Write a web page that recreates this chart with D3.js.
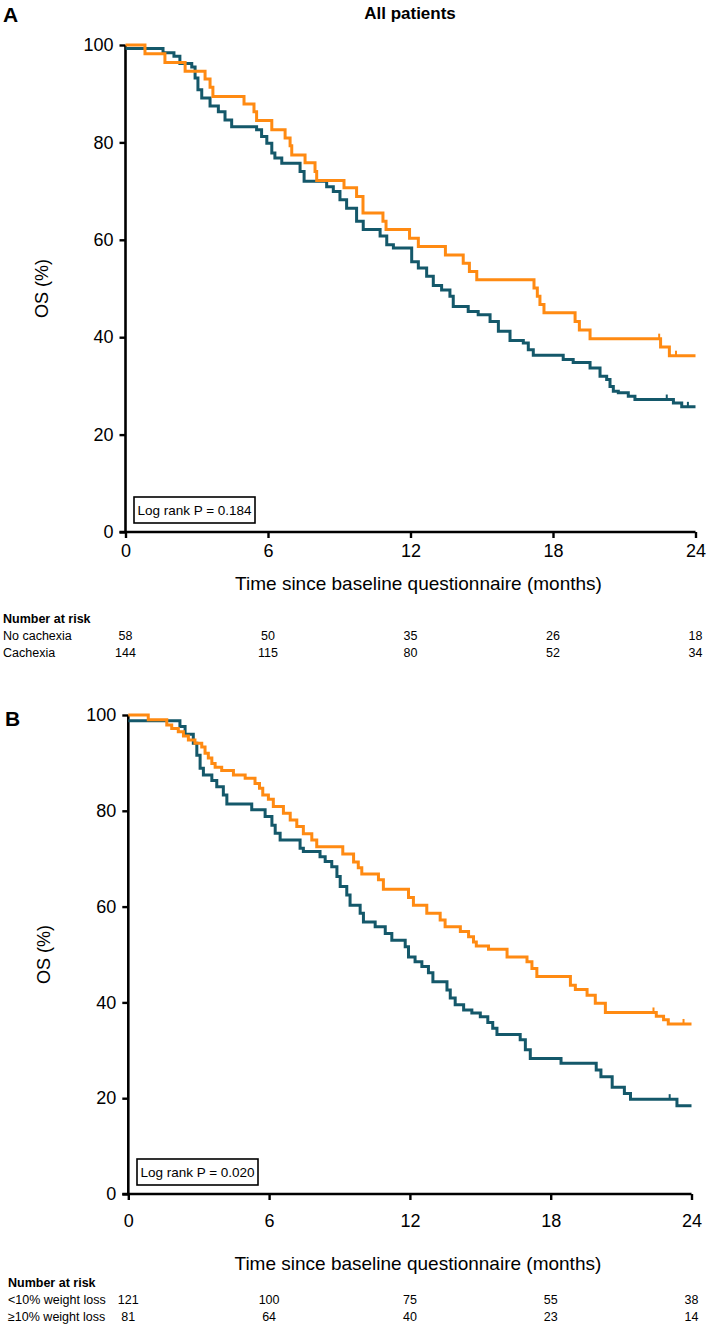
<!DOCTYPE html>
<html>
<head>
<meta charset="utf-8">
<script src="https://cdn.jsdelivr.net/npm/d3@7"></script>
<style>
  body { margin: 0; background: #fff; }
  text { font-family: "Liberation Sans", Arial, sans-serif; fill: #000; }
</style>
</head>
<body>
<div id="chart"></div>
<script>
// ---- data ----
var monthTicks = [0, 6, 12, 18, 24]
var osTicks = [0, 20, 40, 60, 80, 100]

// panel A : all patients
var aNoCachT = [0, 0.82, 1.66, 2.51, 3.35, 3.56, 3.68, 4.99, 5.41, 5.52, 6.16, 6.72, 6.93, 7.0, 7.56, 7.98, 8.05, 9.2, 9.73, 10.0, 10.84, 10.97, 11.96, 12.33, 13.47, 14.22, 14.48, 14.79, 17.2, 17.34, 17.45, 17.62, 18.93, 19.11, 19.56, 22.53, 22.9, 24]
var aNoCachS = [100, 98.2, 96.4, 94.6, 93.0, 91.3, 89.4, 87.9, 86.3, 84.5, 82.6, 80.9, 79.3, 77.4, 75.8, 74.0, 72.2, 70.7, 68.9, 65.5, 63.8, 62.1, 60.3, 58.6, 56.9, 55.2, 53.5, 51.8, 50.1, 48.4, 46.7, 45.0, 43.2, 41.5, 39.7, 38.0, 36.2, 36.2]
var aNoCachCens = [22.47, 23.18]

var aCachT = [0, 1.58, 2.04, 2.29, 2.79, 2.93, 3.05, 3.21, 3.56, 3.91, 4.19, 4.47, 5.52, 5.73, 5.95, 6.16, 6.29, 6.58, 7.35, 7.52, 8.47, 8.75, 9.03, 9.31, 9.73, 10.01, 10.72, 11.0, 11.28, 12.05, 12.33, 12.68, 12.96, 13.31, 13.66, 13.8, 14.43, 14.85, 15.35, 15.7, 16.19, 16.75, 16.96, 17.17, 18.43, 18.85, 19.56, 19.98, 20.26, 20.4, 20.54, 20.75, 21.17, 21.45, 23.07, 23.42, 24]
var aCachS = [99.3, 98.4, 97.7, 96.2, 95.5, 93.2, 90.8, 89.1, 87.5, 86.3, 84.6, 83.2, 82.6, 81.2, 79.8, 77.8, 76.8, 75.7, 74.0, 72.0, 70.9, 69.9, 68.2, 66.5, 63.8, 62.1, 60.8, 59.0, 58.3, 55.5, 54.2, 52.5, 50.6, 49.7, 48.4, 46.3, 45.3, 44.6, 43.2, 41.2, 39.3, 38.8, 37.4, 36.3, 35.4, 34.8, 33.7, 32.0, 31.3, 29.9, 28.9, 28.6, 27.9, 27.2, 26.5, 25.7, 25.7]
var aCachCens = [22.79, 23.68]

var aRiskLabels = ["No cachexia", "Cachexia"]
var aRiskNoCach = [58, 50, 35, 26, 18]
var aRiskCach = [144, 115, 80, 52, 34]

// panel B : weight loss
var bLowT = [0, 0.85, 1.64, 1.85, 2.13, 2.35, 2.56, 2.84, 3.13, 3.27, 3.41, 3.56, 3.7, 3.98, 4.48, 4.98, 5.4, 5.59, 5.73, 5.97, 6.18, 6.61, 6.9, 7.18, 7.46, 7.82, 8.03, 9.14, 9.6, 9.8, 9.95, 10.66, 10.87, 11.94, 12.15, 12.72, 13.29, 13.5, 14.15, 14.5, 14.71, 14.83, 15.35, 16.14, 16.99, 17.2, 17.41, 18.84, 19.05, 19.55, 19.9, 20.33, 22.5, 22.81, 23.01, 24]
var bLowS = [100, 99.0, 97.9, 97.2, 96.5, 95.6, 94.8, 94.1, 93.3, 92.0, 91.0, 89.9, 89.1, 88.4, 87.5, 86.8, 85.7, 84.7, 83.3, 82.4, 80.9, 79.5, 78.1, 76.7, 75.2, 73.9, 72.5, 71.0, 69.3, 68.1, 66.8, 65.6, 63.6, 61.9, 60.3, 58.6, 57.2, 55.8, 54.8, 53.7, 52.6, 51.8, 51.1, 49.5, 48.5, 47.1, 45.4, 43.6, 42.7, 41.5, 39.8, 37.9, 37.1, 36.4, 35.5, 35.5]
var bLowCens = [22.38, 23.66]

var bHighT = [0, 2.2, 2.42, 2.77, 2.92, 3.06, 3.2, 3.56, 3.77, 4.05, 4.2, 5.26, 5.83, 6.12, 6.26, 6.47, 7.32, 7.46, 8.17, 8.39, 8.67, 8.89, 9.03, 9.31, 9.45, 9.88, 10.02, 10.52, 10.95, 11.23, 11.8, 11.94, 12.22, 12.51, 12.79, 12.98, 13.58, 13.72, 13.93, 14.29, 14.64, 15.0, 15.32, 15.53, 15.71, 16.7, 16.92, 17.13, 18.44, 19.94, 20.14, 20.62, 21.14, 21.4, 23.38, 24]
var bHighS = [98.8, 97.6, 96.0, 94.1, 91.6, 88.9, 87.5, 86.3, 85.0, 83.3, 81.4, 80.2, 78.8, 77.0, 75.3, 73.9, 72.2, 71.5, 70.4, 69.4, 68.3, 66.3, 64.2, 62.4, 60.3, 58.6, 56.8, 55.8, 54.4, 53.0, 51.6, 49.5, 48.5, 47.5, 46.2, 44.3, 42.6, 40.9, 39.5, 38.4, 37.8, 37.0, 35.8, 34.6, 33.3, 32.2, 30.1, 28.3, 27.3, 25.9, 24.5, 22.3, 21.0, 19.8, 18.4, 18.4]
var bHighCens = [23.07]

var bRiskLabels = ["<10% weight loss", "\u226510% weight loss"]
var bRiskLow = [121, 100, 75, 55, 38]
var bRiskHigh = [81, 64, 40, 23, 14]

var orange = "#ff8a12"
var teal = "#14586a"

var W = 709, H = 1327

var svg = d3.select("#chart").append("svg")
  .attr("width", W)
  .attr("height", H)

function zip(t, s) {
  var out = []
  for (var i = 0; i < t.length; i++) out.push({t: t[i], s: s[i]})
  return out
}

// draws one KM panel
function km_panel(p)
{
  var x = d3.scaleLinear().domain([0, 24]).range([p.x0, p.x1])
  var y = d3.scaleLinear().domain([0, 100]).range([p.y0, p.y1])

  var g = svg.append("g")

  // panel letter
  g.append("text").attr("x", p.letterX).attr("y", p.letterY)
    .style("font-size", "21px").style("font-weight", "bold").text(p.letter)

  if (p.title)
    g.append("text").attr("x", p.titleX).attr("y", p.titleY)
      .attr("text-anchor", "middle")
      .style("font-size", "17px").style("font-weight", "bold").text(p.title)

  // y axis
  var yAxis = d3.axisLeft(y).tickValues(osTicks).tickSize(6).tickPadding(6)
  var ya = g.append("g").attr("transform", "translate(" + p.x0 + ",0)").call(yAxis)
  ya.select(".domain").attr("stroke", "#000").attr("stroke-width", 2.6)
    .attr("d", "M" + 0 + "," + y(100) + "V" + y(0))
  ya.selectAll(".tick line").attr("stroke", "#000").attr("stroke-width", 2.4)
  ya.selectAll(".tick text").style("font-size", "18px").style("font-family", "Liberation Sans, Arial")

  // x axis
  var xAxis = d3.axisBottom(x).tickValues(monthTicks).tickSize(6).tickPadding(p.xPad)
  var xa = g.append("g").attr("transform", "translate(0," + p.y0 + ")").call(xAxis)
  xa.select(".domain").attr("stroke", "#000").attr("stroke-width", 2.6)
    .attr("d", "M" + (p.x0 - 6) + ",0H" + p.x1)
  xa.selectAll(".tick line").attr("stroke", "#000").attr("stroke-width", 2.4)
  xa.selectAll(".tick text").style("font-size", "18px").style("font-family", "Liberation Sans, Arial")

  // axis titles
  g.append("text").attr("x", (p.x0 + p.x1) / 2 + 8).attr("y", p.xTitleY)
    .attr("text-anchor", "middle").style("font-size", "19px")
    .text("Time since baseline questionnaire (months)")

  g.append("text")
    .attr("transform", "translate(" + p.yTitleX + "," + ((p.y0 + p.y1) / 2) + ") rotate(-90)")
    .attr("text-anchor", "middle").style("font-size", "18px").text("OS (%)")

  // curves
  var line = d3.line()
    .x(function(d) { return x(d.t) })
    .y(function(d) { return y(d.s) })
    .curve(d3.curveStepAfter)

  p.series.forEach(function(se) {
    var pts = zip(se.t, se.s)
    g.append("path").datum(pts)
      .attr("d", line)
      .attr("fill", "none")
      .attr("stroke", se.color)
      .attr("stroke-width", 3)

    // censor marks
    se.cens.forEach(function(c) {
      var sv = se.s[0]
      for (var i = 0; i < se.t.length; i++) if (se.t[i] <= c) sv = se.s[i]
      g.append("line")
        .attr("x1", x(c)).attr("x2", x(c))
        .attr("y1", y(sv)).attr("y2", y(sv) - 5)
        .attr("stroke", se.color).attr("stroke-width", 2)
    })
  })

  // log rank box
  var bx = g.append("g")
  bx.append("rect").attr("x", p.boxX).attr("y", p.y0 - 35).attr("width", 121).attr("height", 26)
    .attr("fill", "#fff").attr("stroke", "#000").attr("stroke-width", 1.6)
  bx.append("text").attr("x", p.boxX + 60.5).attr("y", p.y0 - 17)
    .attr("text-anchor", "middle").style("font-size", "13.5px").text(p.pText)

  // number at risk table
  g.append("text").attr("x", p.tableX).attr("y", p.narY)
    .style("font-size", "12.5px").style("font-weight", "bold").text("Number at risk")

  p.risk.forEach(function(r, k) {
    var ry = p.narY + 17 * (k + 1)
    g.append("text").attr("x", p.tableX).attr("y", ry)
      .style("font-size", "12.5px").text(r.label)
    g.selectAll(null).data(r.values).enter().append("text")
      .attr("x", function(d, i) { return x(monthTicks[i]) })
      .attr("y", ry)
      .attr("text-anchor", "middle")
      .style("font-size", "12.5px")
      .text(function(d) { return d })
  })
}

km_panel({
  letter: "A", letterX: 3, letterY: 22,
  title: "All patients", titleX: 410, titleY: 19,
  x0: 125.5, x1: 695.5, y0: 532, y1: 45,
  xPad: 6, xTitleY: 590, yTitleX: 48,
  boxX: 134, pText: "Log rank P = 0.184",
  tableX: 3, narY: 623,
  series: [
    {t: aCachT, s: aCachS, cens: aCachCens, color: teal},
    {t: aNoCachT, s: aNoCachS, cens: aNoCachCens, color: orange}
  ],
  risk: [
    {label: aRiskLabels[0], values: aRiskNoCach},
    {label: aRiskLabels[1], values: aRiskCach}
  ]
})

km_panel({
  letter: "B", letterX: 5, letterY: 726,
  title: null,
  x0: 128.3, x1: 691.5, y0: 1194, y1: 715,
  xPad: 14, xTitleY: 1270, yTitleX: 50,
  boxX: 137, pText: "Log rank P = 0.020",
  tableX: 8, narY: 1287,
  series: [
    {t: bHighT, s: bHighS, cens: bHighCens, color: teal},
    {t: bLowT, s: bLowS, cens: bLowCens, color: orange}
  ],
  risk: [
    {label: bRiskLabels[0], values: bRiskLow},
    {label: bRiskLabels[1], values: bRiskHigh}
  ]
})
</script>
</body>
</html>
